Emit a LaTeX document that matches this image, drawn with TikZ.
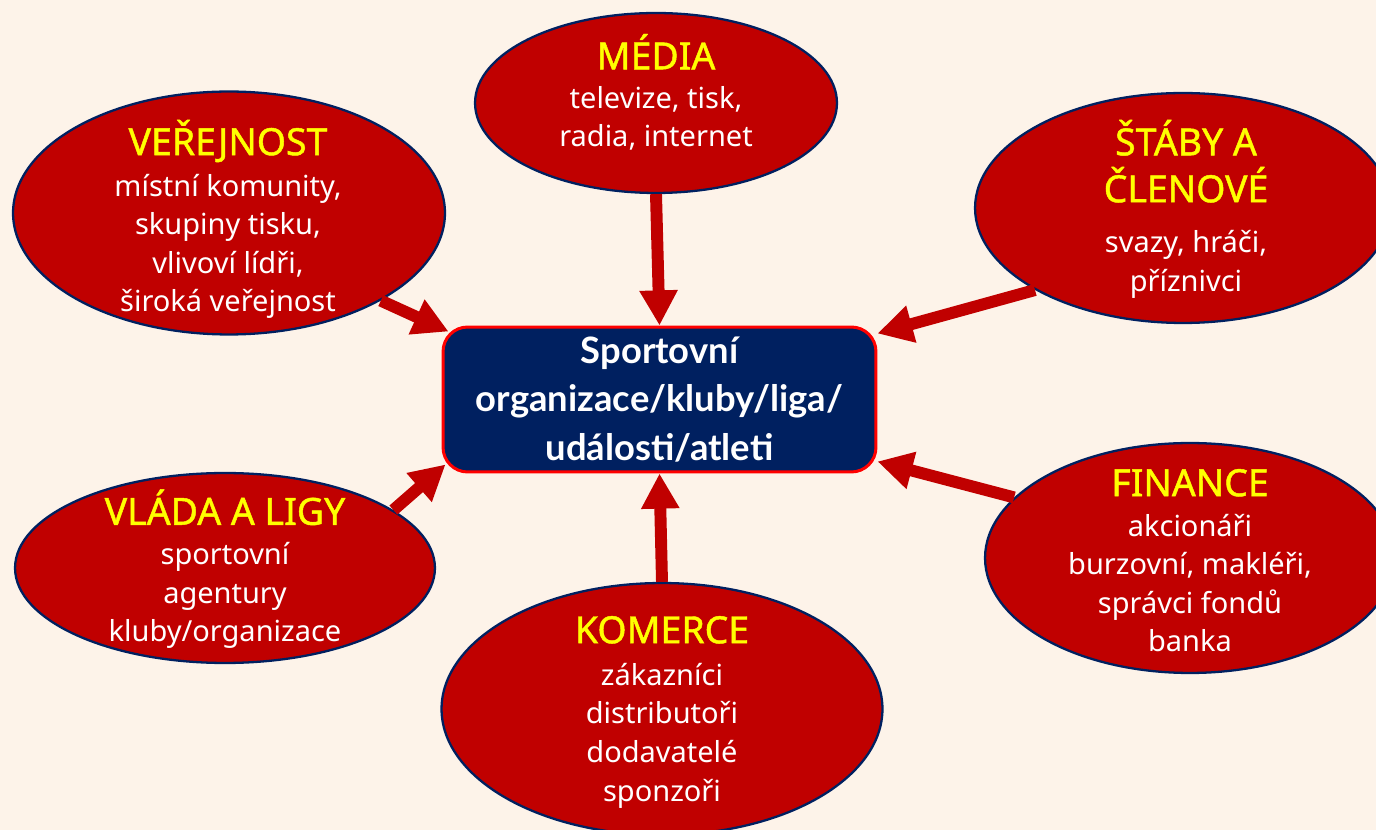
\documentclass[tikz,border=0pt]{standalone}
\usepackage{fontspec}
\setmainfont{Noto Sans}
\newfontfamily\hubfont{Lato}
\newfontfamily\titlefont[FakeBold=1.2]{Noto Sans}
\usetikzlibrary{calc}
\usetikzlibrary{arrows.meta}
\usetikzlibrary{shapes.geometric}
\definecolor{bgcream}{HTML}{FDF3E9}
\definecolor{bubblered}{HTML}{C00000}
\definecolor{navyblue}{HTML}{002060}
\definecolor{titleyellow}{HTML}{FFFF00}
\tikzset{
  bubble/.style={ellipse, fill=bubblered, draw=navyblue, line width=1.3pt, inner sep=0},
  bubtxt/.style={text=white, align=center, inner sep=0, anchor=base, font=\fontsize{16.5}{22}\selectfont},
  hubbox/.style={rectangle, rounded corners=14pt, fill=navyblue, draw=red, line width=1.7pt, inner sep=0,
    text=white, align=center, font=\hubfont\bfseries\fontsize{20.7}{27.5}\selectfont},
  feed/.style={bubblered, line width=6.8pt, -{Triangle[length=20pt,width=20.5pt]}}
}
\newcommand{\hd}[1]{{\color{titleyellow}\titlefont\fontsize{21.3}{21.3}\selectfont #1}}

\begin{document}
\begin{tikzpicture}[x=0.02cm,y=-0.02cm]
\useasboundingbox (0,0) rectangle (1376,830);
\fill[bgcream] (0,0) rectangle (1376,830);
% stakeholder bubbles
\node[bubble, minimum width=7.24cm, minimum height=3.6cm] (media) at (656,103) {};
\node[bubble, minimum width=8.64cm, minimum height=4.86cm] (verej) at (229,213) {};
\node[bubble, minimum width=8.32cm, minimum height=4.6cm] (staby) at (1183,208) {};
\node[bubble, minimum width=8.4cm, minimum height=3.8cm] (vlada) at (225,568) {};
\node[bubble, minimum width=8.82cm, minimum height=5.04cm] (komerce) at (662,709) {};
\node[bubble, minimum width=8.2cm, minimum height=4.6cm] (finance) at (1190,558) {};
% centre
\node[hubbox, minimum width=8.66cm, minimum height=2.9cm] (hub) at (659.5,399.5)
  {Sportovní\\ organizace/kluby/liga/\\ události/atleti};
% arrows into the centre
\draw[feed] (media.south) -- (hub.north);
\draw[feed] (verej.-30) -- ($(hub.north west)+(7,6)$);
\draw[feed] (staby.209) -- ($(hub.north east)+(0,8)$);
\draw[feed] (vlada.19) -- ($(hub.south west)+(4,-9)$);
\draw[feed] (komerce.north) -- (hub.south);
\draw[feed] (finance.161) -- ($(hub.south east)+(0,-12)$);
% texts (base = last line)
\node[bubtxt] (mediatxt) at (656,147) {\hd{MÉDIA}\\[0.2pt] televize, tisk,\\ radia, internet};
\node[bubtxt] (verejtxt) at (228,312) {\hd{VEŘEJNOST}\\[1.3pt] místní komunity,\\ skupiny tisku,\\ vlivoví lídři,\\ široká veřejnost};
\node[bubtxt] (stabytxt) at (1186,292) {\hd{ŠTÁBY A}\\[4.7pt] \hd{ČLENOVÉ}\\[6.4pt] svazy, hráči,\\[0.7pt] příznivci};
\node[bubtxt] (vladatxt) at (225,642) {\hd{VLÁDA A LIGY}\\[0.7pt] sportovní\\ agentury\\ kluby/organizace};
\node[bubtxt] (komercetxt) at (662,801) {\hd{KOMERCE}\\[1.8pt] zákazníci\\ distributoři\\ dodavatelé\\ sponzoři};
\node[bubtxt] (financetxt) at (1190,652) {\hd{FINANCE}\\[0.7pt] akcionáři\\ burzovní, makléři,\\ správci fondů\\ banka};
\end{tikzpicture}
\end{document}
